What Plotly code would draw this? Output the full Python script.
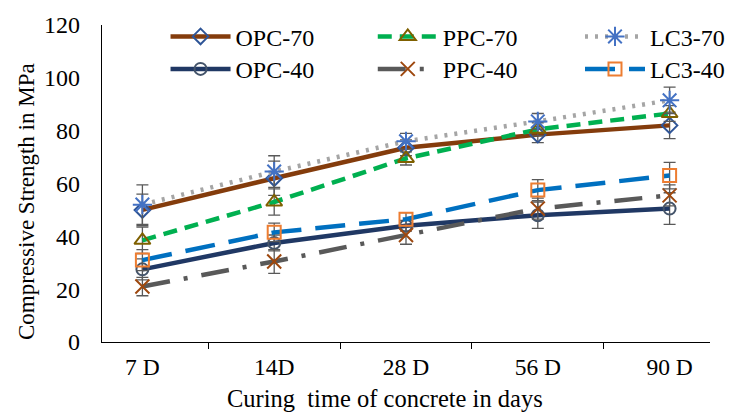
import plotly.graph_objects as go

days = ["7 D", "14D", "28 D", "56 D", "90 D"]

opc70 = [50, 62, 73.5, 78.5, 82]
ppc70 = [38.5, 53, 69.5, 80.5, 86.5]
lc370 = [52, 64.5, 76, 83.5, 91.5]
opc40 = [27.5, 37.5, 44, 48, 50.5]
ppc40 = [21, 30.5, 40.5, 50.5, 55.5]
lc340 = [31, 41.5, 46.5, 57.5, 63]

opc70_err = [6, 6.5, 3, 3, 5]
ppc70_err = [5, 5, 2.5, 2.5, 3]
lc370_err = [7.5, 6, 3, 3, 5]
opc40_err = [4, 3, 2, 5, 6]
ppc40_err = [3.5, 4.5, 3.5, 4, 4]
lc340_err = [4, 3.5, 2.5, 4, 5]

FONT = "Liberation Serif"

series = [
    ("OPC-70", opc70, opc70_err, "#843c0c", "solid", "diamond-open", "#2f5597", 12, "legend"),
    ("PPC-70", ppc70, ppc70_err, "#00b050", "14px,8px", "triangle-up-open", "#7f6000", 14, "legend2"),
    ("LC3-70", lc370, lc370_err, "#a5a5a5", "3px,7px", "asterisk-open", "#4472c4", 16, "legend3"),
    ("OPC-40", opc40, opc40_err, "#203864", "solid", "circle-open", "#44546a", 12, "legend4"),
    ("PPC-40", ppc40, ppc40_err, "#595959", "28px,14px,4px,14px", "x-thin-open", "#9e480e", 14, "legend5"),
    ("LC3-40", lc340, lc340_err, "#0070c0", "30px,14px", "square-open", "#ed7d31", 13, "legend6"),
]

fig = go.Figure()
for name, y, err, col, dash, sym, mcol, msize, leg in series:
    fig.add_trace(go.Scatter(
        x=days, y=y, name=name, mode="lines+markers",
        line=dict(color=col, width=4.5, dash=dash),
        marker=dict(symbol=sym, size=msize, color=mcol, line=dict(color=mcol, width=2)),
        error_y=dict(type="data", array=err, visible=True, color="#595959", thickness=1.3, width=6),
        legend=leg,
    ))

L, R, T, B = 102, 18, 20, 75
PW = 742 - L - R
PH = 417 - T - B


def px_x(px):
    return (px - L) / PW


def px_y(py):
    return (417 - B - py) / PH


leg_cols = [167, 379, 591]
leg_rows = [32, 65]
legends = {}
names = ["legend", "legend2", "legend3", "legend4", "legend5", "legend6"]
for i, nm in enumerate(names):
    legends[nm] = dict(orientation="h", x=px_x(leg_cols[i % 3]), y=px_y(leg_rows[i // 3]),
                       xanchor="left", yanchor="middle", bgcolor="rgba(0,0,0,0)",
                       itemwidth=60,
                       font=dict(family=FONT, size=24, color="black"))

fig.update_layout(
    width=742, height=417,
    margin=dict(l=L, r=R, t=T, b=B),
    paper_bgcolor="white", plot_bgcolor="white",
    font=dict(family=FONT, size=24, color="black"),
    showlegend=True,
    xaxis=dict(type="category", showline=True, linecolor="black", linewidth=1.3,
               ticks="outside", ticklen=6, tickcolor="black", tickson="boundaries",
               showgrid=False, zeroline=False, ticklabelstandoff=4,
               tickfont=dict(family=FONT, size=23.5, color="black")),
    yaxis=dict(range=[0, 120], dtick=20, showline=True, linecolor="black", linewidth=1.3,
               ticks="", showgrid=False, zeroline=False, ticklabelstandoff=16,
               tickfont=dict(family=FONT, size=24, color="black")),
    annotations=[
        dict(text="Compressive Strength in MPa", xref="paper", yref="paper",
             x=px_x(24), y=px_y(199), textangle=-90, showarrow=False,
             xanchor="center", yanchor="middle", font=dict(family=FONT, size=23, color="black")),
        dict(text="Curing  time of concrete in days", xref="paper", yref="paper",
             x=px_x(392), y=px_y(399), showarrow=False,
             xanchor="center", yanchor="middle", font=dict(family=FONT, size=24.5, color="black")),
    ],
)
fig.update_layout(**legends)

fig.write_html("out.html")
